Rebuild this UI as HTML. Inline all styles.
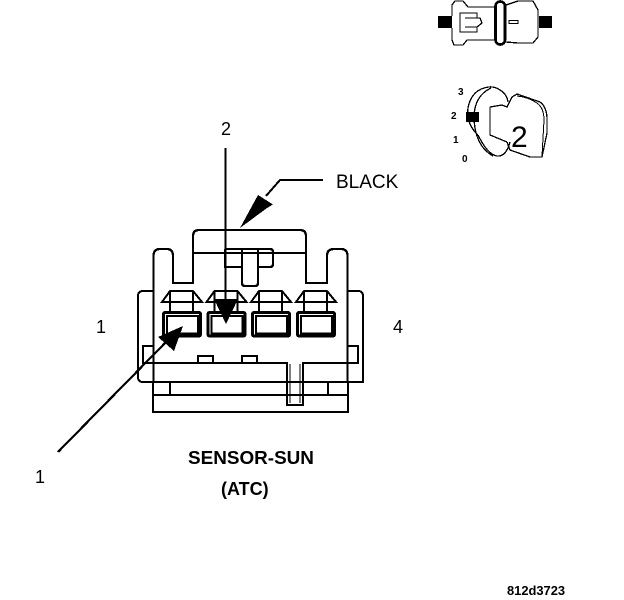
<!DOCTYPE html>
<html><head><meta charset="utf-8"><style>
html,body{margin:0;padding:0;background:#fff;width:624px;height:600px;overflow:hidden}
svg{display:block}
text{font-family:"Liberation Sans",sans-serif;fill:#000}
</style></head><body>
<svg width="624" height="600" viewBox="0 0 624 600" xmlns="http://www.w3.org/2000/svg" shape-rendering="crispEdges">
<rect width="624" height="600" fill="#fff"/>
<g fill="none" stroke="#000" stroke-width="2.200">
<!-- flange -->
<path d="M153 291H143Q138 291 138 296V377Q138 382 143 382H363V296Q363 291 358 291H348" stroke-width="2"/>
<path d="M153 346H143V363H287V405H303V363H358V346H348"/>
<path d="M290 364V403M300 364V403" stroke-width="1"/>
<path d="M198 363V356H213V363M242 363V356H257V363"/>
<!-- main body -->
<path d="M153.500 382V256Q153.500 249 160 249H167Q173 249 173 256V283H193V236Q193 230 199 230H300Q306 230 306 236V283H327V256Q327 249 334 249H341Q347.500 249 347.500 256V382"/>
<path d="M153 382V412H348V382M153 395H348M170 382V395M328 382V395" stroke-width="2.400"/>
<path d="M193 253H306"/>
<!-- latch -->
<path d="M225 249V267H241M242 249V283Q242 286 245 286H255Q258 286 258 283V249M258 267H270Q273 267 273 264V252Q273 249 270 249H225" stroke-width="2.400"/>
<!-- terminals -->
<g id="t">
<path d="M170 291H193L202 302H162ZM170 291V311M193 291V311" stroke-width="2"/>
<rect x="163.500" y="312.500" width="37" height="23.500" rx="1.500" stroke-width="3"/>
<rect x="167" y="316" width="31" height="17.500" stroke-width="2"/>
</g>
<use href="#t" x="44.500"/>
<use href="#t" x="89"/>
<use href="#t" x="134"/>
<!-- leaders -->
<path d="M225.500 148V300" stroke-width="2"/>
<path d="M58 452L166 342" stroke-width="2.200"/>
<path d="M323 180H280L266 196" stroke-width="2"/>
</g>
<g fill="#000">
<path d="M240 228L258 195L273 204.500L267 208Z"/>
<path d="M214 299H238L226 324Z"/>
<path d="M183 326L158 337L174 351Z"/>
</g>
<!-- top right connector icon -->
<g fill="none" stroke="#000" stroke-width="1.300">
<path d="M452 16V5L455 1H463L468 7H495M495 40H467L463 45H454L452 40V28"/>
<path d="M460 13H477V18H480L482 23L477 27V32H460Z"/>
<path d="M465 18H477M465 27H477"/>
<path d="M506 5L518 1H533L538 10V37L533 43H518L506 42"/>
<rect x="509" y="20.500" width="9" height="3"/>
<rect x="495.500" y="1.500" width="9.500" height="43" rx="4.700" stroke-width="2.600"/>
<!-- key -->
<path d="M478 135Q466 124 468 108Q471 92 484 88Q493 85 500 90Q507 94 508 102"/>
<path d="M491 88Q474 96 474 118Q475 146 493 156"/>
<path d="M478 135Q488 155 497 156Q506 157 510 142"/>
<path d="M490 107V135L507 142"/>
<path d="M490 107L502 105L507 107L512 97L517 94L540 102Q546 106 547 117V133L542 157H530L510 150L507 142"/>
<path d="M517 96Q528 97 537 103Q544 108 544 120L542 156" stroke-width="1"/>
</g>
<rect x="466" y="112" width="13" height="10" fill="#000"/>
<rect x="438" y="16" width="14" height="12" fill="#000"/>
<rect x="539" y="16" width="13" height="12" fill="#000"/>
<text x="511" y="147" font-size="30">2</text>
<text x="458" y="95" font-size="10" font-weight="bold">3</text>
<text x="451" y="119" font-size="10" font-weight="bold">2</text>
<text x="453" y="143" font-size="10" font-weight="bold">1</text>
<text x="462" y="162" font-size="10" font-weight="bold">0</text>
<!-- labels -->
<text x="221" y="135" font-size="18">2</text>
<text x="336" y="188" font-size="19">BLACK</text>
<text x="96" y="333" font-size="18">1</text>
<text x="393" y="333" font-size="18">4</text>
<text x="35" y="483" font-size="18">1</text>
<text x="188" y="464" font-size="18.900" font-weight="bold">SENSOR-SUN</text>
<text x="221" y="495" font-size="18" font-weight="bold">(ATC)</text>
<text x="507" y="595" font-size="12.900" font-weight="bold">812d3723</text>
</svg>
</body></html>
